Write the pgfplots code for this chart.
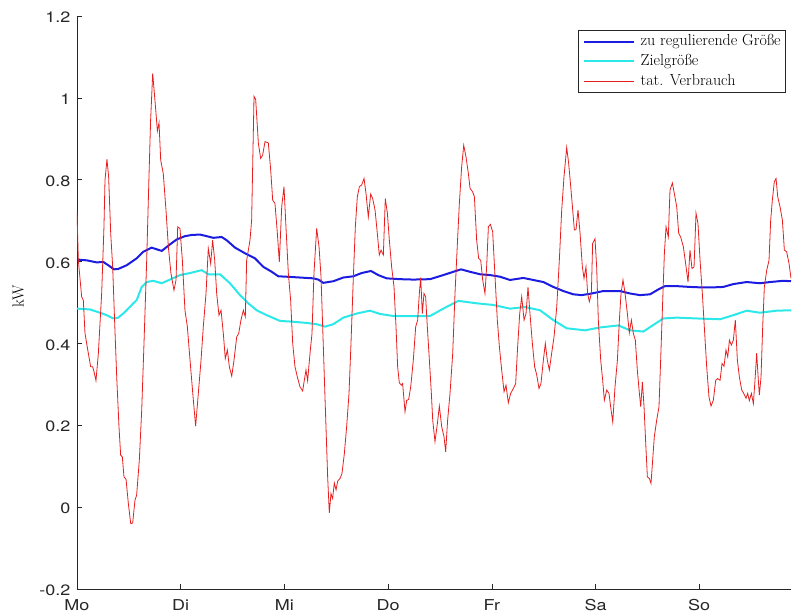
\documentclass[border=0pt]{standalone}
\usepackage{fontspec}
\usepackage{pgfplots}
\usepackage{pgfplotstable}
\pgfplotsset{compat=1.18}
\newfontfamily\helv[FakeStretch=1.2]{TeX Gyre Heros}

\definecolor{regblue}{RGB}{28,28,225}
\definecolor{zielcyan}{RGB}{45,232,232}
\definecolor{verbred}{RGB}{232,30,30}
\definecolor{axgray}{RGB}{38,38,38}

% measured consumption over one week (x in days from Monday 0:00, kW)
\pgfplotstableread{
d kW
0 0.721
0.013 0.603
0.045 0.514
0.061 0.506
0.077 0.425
0.109 0.376
0.132 0.343
0.151 0.343
0.164 0.331
0.183 0.309
0.206 0.376
0.238 0.523
0.260 0.685
0.270 0.799
0.289 0.850
0.305 0.807
0.325 0.669
0.344 0.587
0.360 0.473
0.383 0.318
0.405 0.196
0.421 0.127
0.437 0.123
0.453 0.074
0.473 0.068
0.495 0.009
0.518 -0.040
0.537 -0.039
0.559 0.017
0.575 0.029
0.601 0.115
0.624 0.237
0.646 0.400
0.672 0.603
0.694 0.807
0.710 0.946
0.730 1.060
0.746 1.011
0.762 0.962
0.775 0.919
0.791 0.939
0.807 0.848
0.832 0.815
0.858 0.726
0.881 0.636
0.906 0.571
0.935 0.530
0.955 0.555
0.971 0.685
0.993 0.681
1.016 0.603
1.041 0.481
1.064 0.441
1.090 0.359
1.122 0.261
1.144 0.198
1.170 0.278
1.196 0.359
1.218 0.441
1.244 0.522
1.266 0.632
1.289 0.595
1.308 0.652
1.328 0.603
1.347 0.522
1.369 0.469
1.389 0.481
1.411 0.424
1.430 0.363
1.450 0.384
1.469 0.343
1.492 0.320
1.514 0.359
1.540 0.416
1.559 0.424
1.581 0.457
1.604 0.481
1.623 0.465
1.636 0.603
1.668 0.652
1.684 0.701
1.707 1.004
1.723 0.996
1.749 0.889
1.771 0.852
1.790 0.860
1.813 0.893
1.845 0.890
1.868 0.823
1.887 0.750
1.909 0.742
1.932 0.669
1.951 0.599
1.974 0.734
1.996 0.783
2.015 0.685
2.038 0.571
2.060 0.506
2.080 0.400
2.102 0.343
2.125 0.318
2.150 0.294
2.176 0.284
2.192 0.310
2.208 0.335
2.224 0.309
2.247 0.376
2.266 0.424
2.285 0.571
2.311 0.681
2.334 0.636
2.353 0.563
2.369 0.441
2.385 0.318
2.401 0.196
2.417 0.074
2.433 -0.014
2.449 0.033
2.465 0.021
2.481 0.059
2.498 0.042
2.514 0.064
2.536 0.070
2.555 0.082
2.578 0.131
2.600 0.196
2.623 0.278
2.642 0.400
2.665 0.563
2.684 0.685
2.703 0.758
2.723 0.783
2.745 0.787
2.768 0.803
2.787 0.766
2.809 0.709
2.832 0.765
2.851 0.754
2.874 0.726
2.896 0.669
2.915 0.616
2.932 0.628
2.954 0.616
2.973 0.754
2.993 0.718
3.012 0.652
3.034 0.587
3.057 0.538
3.076 0.441
3.092 0.343
3.108 0.304
3.128 0.298
3.140 0.302
3.163 0.233
3.179 0.261
3.198 0.263
3.218 0.294
3.243 0.359
3.266 0.441
3.285 0.457
3.301 0.522
3.314 0.561
3.330 0.473
3.346 0.522
3.362 0.514
3.378 0.441
3.398 0.359
3.417 0.278
3.430 0.213
3.452 0.160
3.475 0.204
3.494 0.247
3.517 0.196
3.539 0.172
3.555 0.135
3.574 0.213
3.597 0.278
3.623 0.376
3.645 0.522
3.668 0.644
3.687 0.742
3.709 0.831
3.729 0.884
3.751 0.856
3.774 0.815
3.790 0.779
3.816 0.770
3.832 0.758
3.854 0.652
3.873 0.608
3.893 0.603
3.912 0.555
3.934 0.522
3.950 0.587
3.967 0.685
3.986 0.691
4.008 0.673
4.031 0.563
4.053 0.457
4.073 0.392
4.095 0.335
4.118 0.282
4.137 0.298
4.159 0.255
4.182 0.278
4.208 0.290
4.230 0.302
4.249 0.392
4.269 0.473
4.288 0.514
4.311 0.457
4.330 0.473
4.349 0.538
4.368 0.473
4.391 0.400
4.413 0.343
4.433 0.323
4.455 0.290
4.474 0.302
4.497 0.359
4.516 0.400
4.535 0.359
4.555 0.335
4.577 0.376
4.600 0.416
4.626 0.489
4.651 0.603
4.674 0.726
4.696 0.807
4.722 0.879
4.741 0.840
4.761 0.783
4.780 0.726
4.796 0.677
4.812 0.678
4.831 0.726
4.851 0.669
4.873 0.587
4.889 0.559
4.908 0.587
4.924 0.522
4.940 0.502
4.960 0.522
4.972 0.644
4.995 0.656
5.011 0.587
5.027 0.457
5.050 0.359
5.069 0.310
5.085 0.261
5.108 0.286
5.130 0.278
5.146 0.245
5.166 0.208
5.188 0.294
5.211 0.359
5.230 0.457
5.246 0.522
5.265 0.555
5.285 0.522
5.307 0.473
5.326 0.426
5.346 0.457
5.365 0.424
5.384 0.408
5.403 0.335
5.423 0.278
5.436 0.245
5.452 0.306
5.468 0.245
5.484 0.156
5.500 0.074
5.519 0.070
5.535 0.058
5.551 0.115
5.567 0.172
5.590 0.213
5.612 0.245
5.628 0.359
5.648 0.506
5.664 0.620
5.680 0.685
5.702 0.660
5.718 0.774
5.741 0.792
5.760 0.766
5.783 0.734
5.802 0.669
5.821 0.660
5.847 0.636
5.869 0.595
5.892 0.550
5.911 0.628
5.930 0.583
5.950 0.587
5.969 0.718
5.988 0.693
6.008 0.603
6.030 0.522
6.049 0.441
6.072 0.343
6.094 0.269
6.114 0.247
6.136 0.261
6.159 0.310
6.178 0.314
6.201 0.310
6.220 0.351
6.239 0.344
6.258 0.384
6.275 0.367
6.291 0.408
6.310 0.396
6.329 0.408
6.348 0.457
6.368 0.359
6.387 0.318
6.410 0.286
6.429 0.278
6.451 0.266
6.467 0.278
6.483 0.260
6.503 0.278
6.522 0.253
6.538 0.310
6.554 0.376
6.570 0.310
6.580 0.274
6.596 0.318
6.612 0.441
6.628 0.538
6.651 0.579
6.673 0.603
6.689 0.701
6.705 0.750
6.724 0.795
6.741 0.803
6.757 0.758
6.779 0.734
6.802 0.701
6.821 0.628
6.843 0.624
6.866 0.595
6.885 0.559
}\verbrauch

% quantity to be regulated
\pgfplotstableread{
d kW
0 0.605
0.094 0.603
0.190 0.598
0.254 0.599
0.302 0.591
0.357 0.581
0.398 0.582
0.479 0.591
0.576 0.608
0.639 0.624
0.720 0.634
0.769 0.630
0.817 0.626
0.897 0.642
0.961 0.654
1.041 0.662
1.106 0.665
1.186 0.666
1.251 0.662
1.314 0.658
1.395 0.660
1.444 0.652
1.524 0.634
1.636 0.618
1.716 0.608
1.797 0.587
1.878 0.575
1.941 0.564
2.022 0.563
2.150 0.561
2.279 0.559
2.327 0.556
2.375 0.548
2.472 0.552
2.568 0.561
2.664 0.564
2.745 0.572
2.835 0.577
2.905 0.567
2.986 0.559
3.115 0.557
3.243 0.556
3.404 0.557
3.532 0.567
3.629 0.575
3.703 0.581
3.790 0.575
3.886 0.569
3.983 0.567
4.079 0.563
4.175 0.555
4.304 0.560
4.400 0.555
4.497 0.550
4.593 0.538
4.690 0.528
4.786 0.520
4.867 0.518
4.963 0.522
5.075 0.528
5.236 0.528
5.333 0.522
5.429 0.518
5.526 0.520
5.606 0.532
5.670 0.540
5.783 0.540
5.911 0.538
6.008 0.537
6.136 0.537
6.232 0.538
6.329 0.545
6.458 0.550
6.586 0.547
6.683 0.550
6.811 0.553
6.885 0.552
}\regulier

% target quantity
\pgfplotstableread{
d kW
0 0.485
0.125 0.483
0.222 0.475
0.286 0.469
0.350 0.461
0.398 0.463
0.463 0.477
0.543 0.498
0.576 0.506
0.624 0.538
0.672 0.550
0.736 0.553
0.817 0.547
0.897 0.556
0.993 0.567
1.090 0.572
1.202 0.579
1.266 0.569
1.379 0.569
1.475 0.547
1.572 0.518
1.652 0.498
1.733 0.481
1.829 0.469
1.958 0.455
2.086 0.453
2.215 0.450
2.311 0.447
2.392 0.441
2.472 0.447
2.568 0.463
2.697 0.473
2.825 0.480
2.922 0.472
3.050 0.467
3.404 0.467
3.532 0.485
3.677 0.504
3.854 0.498
4.014 0.494
4.175 0.485
4.320 0.489
4.465 0.481
4.593 0.457
4.722 0.437
4.899 0.432
5.043 0.439
5.220 0.444
5.333 0.432
5.461 0.429
5.557 0.445
5.654 0.461
5.783 0.463
5.976 0.461
6.201 0.459
6.329 0.469
6.458 0.480
6.586 0.475
6.747 0.480
6.885 0.481
}\ziel

\begin{document}
\begin{tikzpicture}
\begin{axis}[
  scale only axis,
  width=714bp, height=573bp,
  xmin=0, xmax=6.885,
  ymin=-0.2, ymax=1.2,
  axis x line=bottom, axis y line=left,
  axis line style={-, draw=axgray, line width=0.7bp},
  tick align=inside,
  major tick length=5bp,
  tick style={draw=axgray, line width=0.6bp},
  xtick={0,1,2,3,4,5,6},
  xticklabels={Mo,Di,Mi,Do,Fr,Sa,So},
  ytick={-0.2,0,0.2,0.4,0.6,0.8,1,1.2},
  yticklabels={-0.2,0,0.2,0.4,0.6,0.8,1,1.2},
  ticklabel style={font=\helv\fontsize{15bp}{18bp}\selectfont, text=axgray, inner sep=0pt},
  xticklabel style={anchor=north, yshift=-10.5bp},
  yticklabel style={anchor=east, xshift=-6.5bp, yshift=-1.5bp},
  every axis y label/.style={at={(axis description cs:-0.0742,0.5105)},
    rotate=90, anchor=south, inner sep=0pt},
  ylabel={\fontsize{16bp}{19bp}\selectfont kW},
  legend style={at={(axis description cs:0.9930,0.9756)}, anchor=north east,
    draw=axgray, line width=0.6bp, fill=white,
    font=\fontsize{16bp}{19bp}\selectfont,
    inner xsep=5bp, inner ysep=1.5bp, row sep=0bp,
    nodes={inner xsep=0pt, inner ysep=0pt, text height=14bp, text depth=5.7bp},
    /tikz/every odd column/.append style={column sep=5.5bp}},
  legend cell align=left,
  legend image code/.code={\draw[#1] (0bp,0bp) -- (50bp,0bp);},
]
\addplot[regblue, line width=2bp] table[x=d, y=kW] {\regulier};
\addlegendentry{zu regulierende Größe}
\addplot[zielcyan, line width=2bp] table[x=d, y=kW] {\ziel};
\addlegendentry{Zielgröße}
\addplot[verbred, line width=0.8bp] table[x=d, y=kW] {\verbrauch};
\addlegendentry{tat. Verbrauch}
\end{axis}
\pgfresetboundingbox
\path[use as bounding box] ([shift={(-77bp,-25bp)}]current axis.south west)
  rectangle ([shift={(1bp,16bp)}]current axis.north east);
\end{tikzpicture}
\end{document}
